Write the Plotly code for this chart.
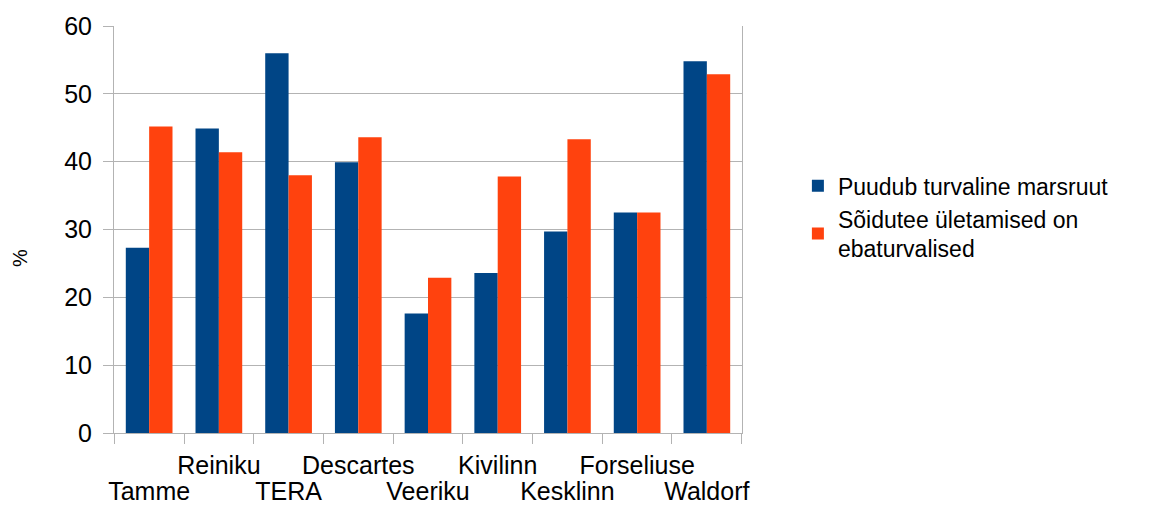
import plotly.graph_objects as go

categories = ["Tamme", "Reiniku", "TERA", "Descartes", "Veeriku",
              "Kivilinn", "Kesklinn", "Forseliuse", "Waldorf"]
series1_name = "Puudub turvaline marsruut"
series2_name = "Sõidutee ületamised on<br>ebaturvalised"
series1 = [27.3, 44.9, 56.0, 39.9, 17.6, 23.6, 29.7, 32.5, 54.8]
series2 = [45.2, 41.4, 38.0, 43.6, 22.9, 37.8, 43.3, 32.5, 52.9]
y_ticks = [0, 10, 20, 30, 40, 50, 60]
y_title = "%"

# staggered category labels: odd index on upper row, even index on lower row
upper_text = [c if i % 2 == 1 else "" for i, c in enumerate(categories)]
lower_text = [c if i % 2 == 0 else "" for i, c in enumerate(categories)]

FONT = "Liberation Sans, Arial, sans-serif"
GRID = "#b3b3b3"

# page body has an 8px default margin, so the figure is 8px smaller
W, H = 1148, 499
L, T, R, B = 106, 18, 414, 74
PW, PH = W - L - R, H - T - B

fig = go.Figure()
fig.add_trace(go.Bar(x=categories, y=series1, name=series1_name,
                     marker=dict(color="#004586", line=dict(width=0))))
fig.add_trace(go.Bar(x=categories, y=series2, name=series2_name,
                     marker=dict(color="#ff420e", line=dict(width=0))))
# empty helper trace so the second (label-only) category axis is drawn
fig.add_trace(go.Scatter(x=categories, y=[None] * len(categories),
                         xaxis="x2", yaxis="y", mode="markers",
                         showlegend=False, hoverinfo="skip"))

fig.update_layout(
    width=W, height=H,
    margin=dict(l=L, r=R, t=T, b=B, pad=0),
    paper_bgcolor="white", plot_bgcolor="white",
    barmode="group", bargap=0.33, bargroupgap=0,
    font=dict(family=FONT, size=23, color="black"),
    legend=dict(x=1.089, xanchor="left", y=0.53, yanchor="middle",
                font=dict(size=23, family=FONT), tracegroupgap=2,
                itemwidth=30),
    showlegend=True,
    xaxis=dict(
        type="category", categoryorder="array", categoryarray=categories,
        tickmode="array", tickvals=categories, ticktext=upper_text,
        tickson="boundaries", ticks="outside", ticklen=10, tickcolor=GRID,
        showgrid=False, showline=True, linecolor=GRID, linewidth=1,
        tickfont=dict(size=25, family=FONT), tickangle=0,
        ticklabelstandoff=10, automargin=False,
    ),
    xaxis2=dict(
        type="category", categoryorder="array", categoryarray=categories,
        overlaying="x", matches="x", anchor="y", side="bottom",
        tickmode="array", tickvals=categories, ticktext=lower_text,
        ticks="", showgrid=False, showline=False, zeroline=False,
        tickfont=dict(size=25, family=FONT), tickangle=0,
        ticklabelstandoff=41, automargin=False,
    ),
    yaxis=dict(
        range=[0, 60], tickmode="array", tickvals=y_ticks,
        ticks="outside", ticklen=10, tickcolor=GRID,
        showgrid=True, gridcolor=GRID, gridwidth=1,
        showline=True, linecolor=GRID, linewidth=1, mirror=True,
        zeroline=False, tickfont=dict(size=25, family=FONT),
        ticklabelstandoff=6, automargin=False,
    ),
    annotations=[dict(
        text=y_title, textangle=-90, showarrow=False,
        xref="paper", yref="paper",
        x=(20 - 8 - L) / PW, y=(H - B - (258 - 8)) / PH,
        xanchor="center", yanchor="middle",
        font=dict(size=20, family=FONT),
    )],
)

fig.write_html("out.html")
